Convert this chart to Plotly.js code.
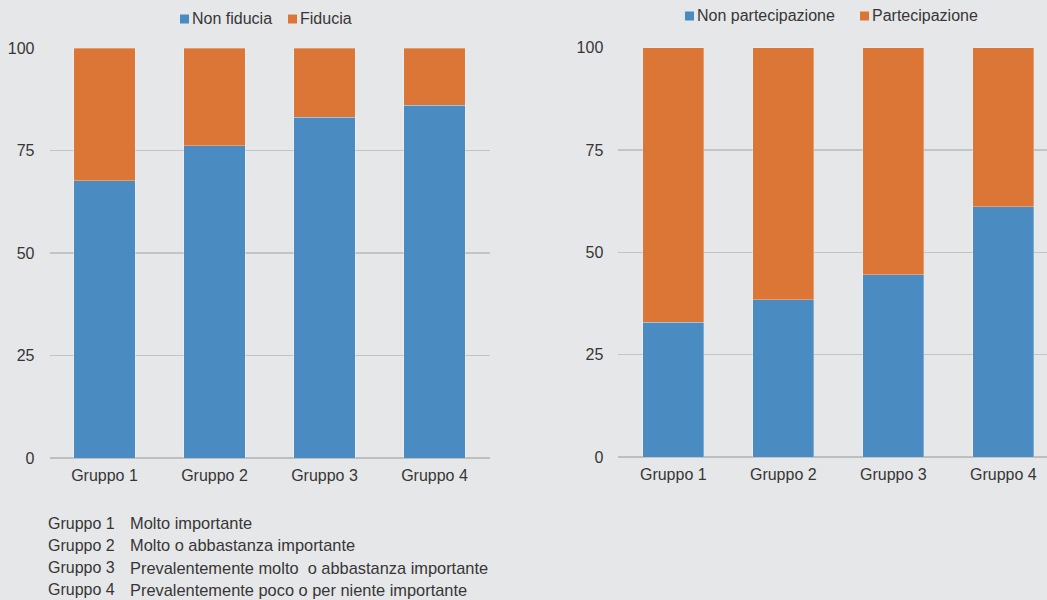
<!DOCTYPE html>
<html>
<head>
<meta charset="utf-8">
<script src="https://cdn.plot.ly/plotly-3.0.1.min.js"></script>
<style>
  html, body { margin: 0; padding: 0; background: #e6e7e9; }
  #chart { width: 1047px; height: 600px; }
</style>
</head>
<body>
<div id="chart"></div>
<script>
// Categories and series (percent shares, each bar stacks to 100)
const categories = ['Gruppo 1', 'Gruppo 2', 'Gruppo 3', 'Gruppo 4'];

const fiduciaNames = ['Non fiducia', 'Fiducia'];
const nonFiducia = [67.6, 76.1, 83.1, 86.0];
const fiducia = [32.4, 23.9, 16.9, 14.0];

const partecipazioneNames = ['Non partecipazione', 'Partecipazione'];
const nonPartecipazione = [33.0, 38.4, 44.5, 61.2];
const partecipazione = [67.0, 61.6, 55.5, 38.8];

const yTicks = [0, 25, 50, 75, 100];

// Group key shown under the left panel
const noteCodes = ['Gruppo 1', 'Gruppo 2', 'Gruppo 3', 'Gruppo 4'];
const noteTexts = [
  'Molto importante',
  'Molto o abbastanza importante',
  'Prevalentemente molto\u00a0 o abbastanza importante',
  'Prevalentemente poco o per niente importante'
];

// Styling
const W = 1047, H = 600;
const BLUE = '#4a8bc2';
const ORANGE = '#dc7637';
const BG = '#e6e7e9';
const GRID = '#c3c4c6';
const TEXT = '#363636';
const FONT = 'Liberation Sans, Arial, sans-serif';

// pixel -> paper helpers (margins are zero, so paper == page)
const px = v => v / W;
const py = v => 1 - v / H;

const barLine = { color: 'rgba(255,255,255,0.35)', width: 0.8 };

function bars(y, name, color, xa, ya) {
  return {
    type: 'bar', x: categories, y: y, name: name,
    xaxis: xa, yaxis: ya, showlegend: false,
    marker: { color: color, line: barLine },
    hoverinfo: 'x+y+name'
  };
}

const data = [
  bars(nonFiducia, fiduciaNames[0], BLUE, 'x', 'y'),
  bars(fiducia, fiduciaNames[1], ORANGE, 'x', 'y'),
  bars(nonPartecipazione, partecipazioneNames[0], BLUE, 'x2', 'y2'),
  bars(partecipazione, partecipazioneNames[1], ORANGE, 'x2', 'y2')
];

function xAxis(domain, range, anchor) {
  return {
    domain: domain, range: range, anchor: anchor,
    type: 'category', showgrid: false, zeroline: false, showline: false,
    ticks: '', ticklabelstandoff: 6, automargin: false,
    tickfont: { family: FONT, size: 16, color: TEXT }
  };
}
function yAxis(domain, anchor) {
  return {
    domain: domain, range: [0, 100], anchor: anchor,
    tickvals: yTicks, ticktext: yTicks.map(String),
    showgrid: true, gridcolor: GRID, gridwidth: 1.2,
    zeroline: true, zerolinecolor: '#bdbec0', zerolinewidth: 2,
    showline: false, ticks: '', ticklabelstandoff: 14, automargin: false,
    tickfont: { family: FONT, size: 16, color: TEXT }
  };
}

// Legend swatches and labels, drawn as shapes and annotations
const shapes = [];
const annotations = [];
function legendItem(sx, sy, color, label) {
  shapes.push({
    type: 'rect', xref: 'paper', yref: 'paper',
    x0: px(sx), x1: px(sx + 9), y0: py(sy + 4.5), y1: py(sy - 4.5),
    fillcolor: color, line: { width: 0 }
  });
  annotations.push({
    xref: 'paper', yref: 'paper', x: px(sx + 10), y: py(sy),
    xanchor: 'left', yanchor: 'middle', showarrow: false,
    text: label, font: { family: FONT, size: 16, color: TEXT }
  });
}
legendItem(180, 19, BLUE, fiduciaNames[0]);
legendItem(288, 19, ORANGE, fiduciaNames[1]);
legendItem(685, 16, BLUE, partecipazioneNames[0]);
legendItem(860, 16, ORANGE, partecipazioneNames[1]);

noteCodes.forEach((code, i) => {
  const yy = 523 + i * 22.3;
  annotations.push({
    xref: 'paper', yref: 'paper', x: px(46), y: py(yy),
    xanchor: 'left', yanchor: 'middle', showarrow: false,
    text: code, font: { family: FONT, size: 16, color: TEXT }
  });
  annotations.push({
    xref: 'paper', yref: 'paper', x: px(128), y: py(yy),
    xanchor: 'left', yanchor: 'middle', showarrow: false,
    text: noteTexts[i], font: { family: FONT, size: 16.4, color: TEXT }
  });
});

const layout = {
  width: W, height: H,
  margin: { l: 0, r: 0, t: 0, b: 0, pad: 0 },
  paper_bgcolor: BG, plot_bgcolor: BG,
  barmode: 'stack', bargap: 0.445,
  showlegend: false,
  font: { family: FONT, size: 16, color: TEXT },
  xaxis: xAxis([px(49.5), px(489.5)], [-0.5, 3.5], 'y'),
  yaxis: yAxis([py(458), py(48)], 'x'),
  xaxis2: xAxis([px(618.3), 1], [-0.5, 3.397], 'y2'),
  yaxis2: yAxis([py(457.3), py(47.5)], 'x2'),
  shapes: shapes,
  annotations: annotations
};

Plotly.newPlot('chart', data, layout, { displayModeBar: false, staticPlot: true });
</script>
</body>
</html>
